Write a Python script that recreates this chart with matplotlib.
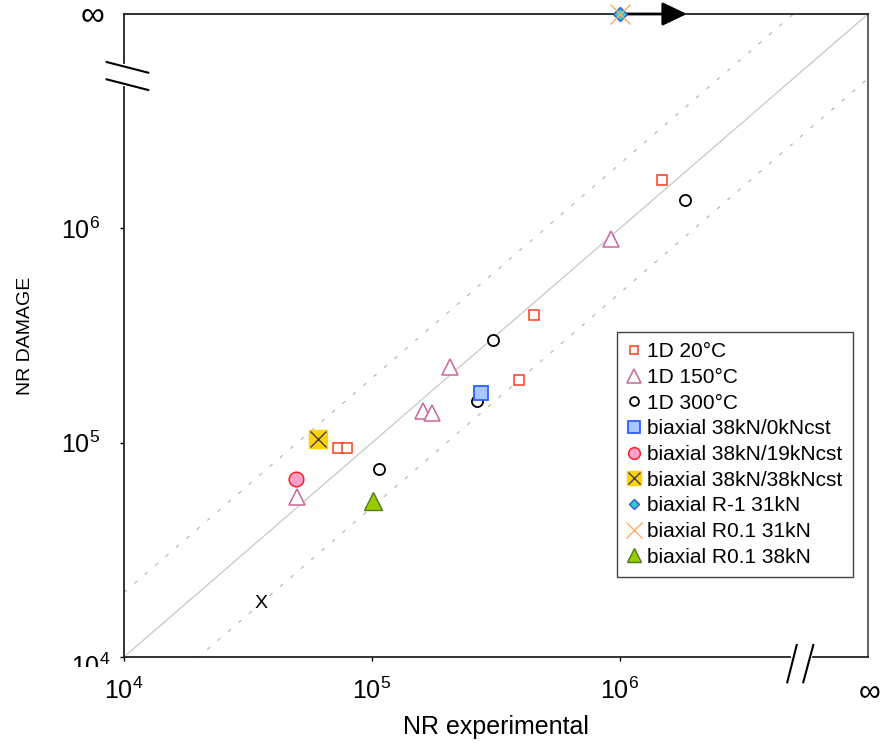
import matplotlib
matplotlib.use('Agg')
import matplotlib.pyplot as plt
from matplotlib.legend_handler import HandlerTuple
from matplotlib.transforms import Bbox, TransformedBbox

plt.rcParams['font.family'] = ['Liberation Sans', 'DejaVu Sans']
plt.rcParams['mathtext.fontset'] = 'custom'
plt.rcParams['mathtext.rm'] = 'Liberation Sans'

# data (x = NR experimental, y = NR DAMAGE)
d20_x = [1.48e6, 4.5e5, 3.9e5, 7.3e4, 7.9e4]
d20_y = [1.68e6, 3.95e5, 1.97e5, 9.4e4, 9.4e4]

d150_x = [9.2e5, 2.07e5, 1.61e5, 1.75e5, 5.0e4]
d150_y = [8.9e5, 2.26e5, 1.40e5, 1.37e5, 5.6e4]

d300_x = [1.83e6, 3.08e5, 2.66e5, 1.07e5]
d300_y = [1.35e6, 3.0e5, 1.57e5, 7.55e4]

bi0_x, bi0_y = [2.76e5], [1.71e5]
bi19_x, bi19_y = [4.95e4], [6.8e4]
bi38_x, bi38_y = [6.05e4], [1.045e5]
rm1_x, rm1_y = [1e6], [1e7]       # y = infinity (top of axis)
r01_31_x, r01_31_y = [1e6], [1e7]
r01_38_x, r01_38_y = [1.008e5], [5.37e4]

x_mark = (3.56e4, 1.78e4)        # the loose "X" label
arrow_end = 1.86e6

lim = [1e4, 1e7]
ratios = [1, 2, 0.5]
xticks = [1e4, 1e5, 1e6]
xtick_labels = [r'$\mathregular{10^{4}}$', r'$\mathregular{10^{5}}$', r'$\mathregular{10^{6}}$']
yticks = [1e4, 1e5, 1e6]
ytick_labels = ['', r'$\mathregular{10^{5}}$', r'$\mathregular{10^{6}}$']

fig = plt.figure(figsize=(8.82, 7.45), dpi=100)
ax = fig.add_axes([124 / 882, 1 - 657 / 745, 744 / 882, 643 / 745])
ax.set_xscale('log')
ax.set_yscale('log')
ax.set_xlim(lim)
ax.set_ylim(lim)

# reference lines y = x, y = 2x, y = x/2
for r in ratios:
    ys = [v * r for v in lim]
    if r == 1:
        ax.plot(lim, ys, color='#c8c8c8', lw=0.9, zorder=1)
    else:
        ax.plot(lim, ys, color='#b8b8b8', lw=0.9, ls=(0, (3, 8)), zorder=1)

h20, = ax.plot(d20_x, d20_y, 's', ms=6.5, mfc='white', mec='#ff3b1f', mew=1.1, ls='none')
h150, = ax.plot(d150_x, d150_y, '^', ms=12, mfc='white', mec='#c8679a', mew=1.1, ls='none')
h300, = ax.plot(d300_x, d300_y, 'o', ms=8, mfc='white', mec='black', mew=1.3, ls='none')
hb0, = ax.plot(bi0_x, bi0_y, 's', ms=10, mfc='#a8c8ff', mec='#2f5fff', mew=1.3, ls='none')
hb19, = ax.plot(bi19_x, bi19_y, 'o', ms=10.5, mfc='#ffa0cc', mec='#ff2020', mew=1.1, ls='none')
hb38s, = ax.plot(bi38_x, bi38_y, 's', ms=13, mfc='#ffd200', mec='#ffd200', ls='none')
hb38x, = ax.plot(bi38_x, bi38_y, 'x', ms=11, mec='#404060', mew=1.0, ls='none')
hrm1, = ax.plot(rm1_x, rm1_y, 'D', ms=7, mfc='#33cccc', mec='#3355cc', mew=1.0, ls='none',
                clip_on=False, zorder=5)
hr31, = ax.plot(r01_31_x, r01_31_y, 'x', ms=14, mec='#ffaa60', mew=1.0, ls='none',
                clip_on=False, zorder=6)
hr38, = ax.plot(r01_38_x, r01_38_y, '^', ms=13, mfc='#99cc00', mec='#4d7a1f', mew=1.0, ls='none')

ax.text(x_mark[0], x_mark[1], 'X', fontsize=14, ha='center', va='center')

ax.annotate('', xy=(arrow_end, 1e7), xytext=(1e6, 1e7), annotation_clip=False,
            arrowprops=dict(arrowstyle='-|>,head_length=1.0,head_width=0.48',
                            mutation_scale=15, lw=2, color='black',
                            shrinkA=0, shrinkB=0))

ax.set_xticks(xticks)
ax.set_xticklabels(xtick_labels)
ax.set_yticks(yticks)
ax.set_yticklabels(ytick_labels)
ax.minorticks_off()
ax.tick_params(axis='both', direction='out', length=3, width=1, labelsize=18)
ax.tick_params(axis='x', pad=12)
ax.tick_params(axis='y', pad=14)

# the lowest y label is cut off at its bottom in the reference
ylab0 = ax.text(-0.0188, 1e4, r'$\mathregular{10^{4}}$', fontsize=18, ha='right', va='top',
                transform=ax.get_yaxis_transform())
ylab0.set_position((-0.0188, 1.0e4 * 1.04))
ylab0.set_clip_box(TransformedBbox(Bbox([[0, (745 - 667) / 745], [1, 1]]), fig.transFigure))
ylab0.set_clip_on(True)

for s in ['left', 'bottom', 'top']:
    ax.spines[s].set_linewidth(1.3)
    ax.spines[s].set_color('#222222')
ax.spines['right'].set_linewidth(1.3)
ax.spines['right'].set_color('#555555')

# infinity labels
ax.text(-0.043, 1.0, r'$\infty$', transform=ax.transAxes, fontsize=24, ha='center', va='center')
ax.text(1.0161, -0.053, r'$\infty$', transform=ax.transAxes, fontsize=22, ha='right',
        va='center')

# axis breaks
ax.plot([0, 0], [0.8915, 0.9184], transform=ax.transAxes, color='white', lw=3,
        clip_on=False, zorder=10)
ax.plot([-0.0233, 0.0326], [0.9253, 0.9087], transform=ax.transAxes, color='black', lw=1.5,
        clip_on=False, zorder=11)
ax.plot([-0.0233, 0.0326], [0.8984, 0.8818], transform=ax.transAxes, color='black', lw=1.5,
        clip_on=False, zorder=11)
ax.plot([0.8997, 0.9219], [0, 0], transform=ax.transAxes, color='white', lw=3,
        clip_on=False, zorder=10)
ax.plot([0.8915, 0.9042], [-0.0393, 0.0187], transform=ax.transAxes, color='black', lw=1.5,
        clip_on=False, zorder=11)
ax.plot([0.9130, 0.9265], [-0.0393, 0.0187], transform=ax.transAxes, color='black', lw=1.5,
        clip_on=False, zorder=11)

ax.set_xlabel('NR experimental', fontsize=18, labelpad=8)
ax.set_ylabel('NR DAMAGE', fontsize=14, labelpad=20)

handles = [h20, h150, h300, hb0, hb19, (hb38s, hb38x), hrm1, hr31, hr38]
labels = ['1D 20°C', '1D 150°C', '1D 300°C', 'biaxial 38kN/0kNcst', 'biaxial 38kN/19kNcst',
          'biaxial 38kN/38kNcst', 'biaxial R-1 31kN', 'biaxial R0.1 31kN', 'biaxial R0.1 38kN']
leg = fig.legend(handles, labels, loc='upper left', bbox_to_anchor=(617 / 882, 1 - 332 / 745),
                 fontsize=15, markerscale=0.8, frameon=True, fancybox=False, framealpha=1,
                 edgecolor='#444444', borderaxespad=0, borderpad=0.5, labelspacing=0.32,
                 handlelength=0.6, handletextpad=0.35,
                 handler_map={tuple: HandlerTuple(ndivide=1)})
leg.get_frame().set_linewidth(1.0)

fig.savefig('out.png', dpi=100)
